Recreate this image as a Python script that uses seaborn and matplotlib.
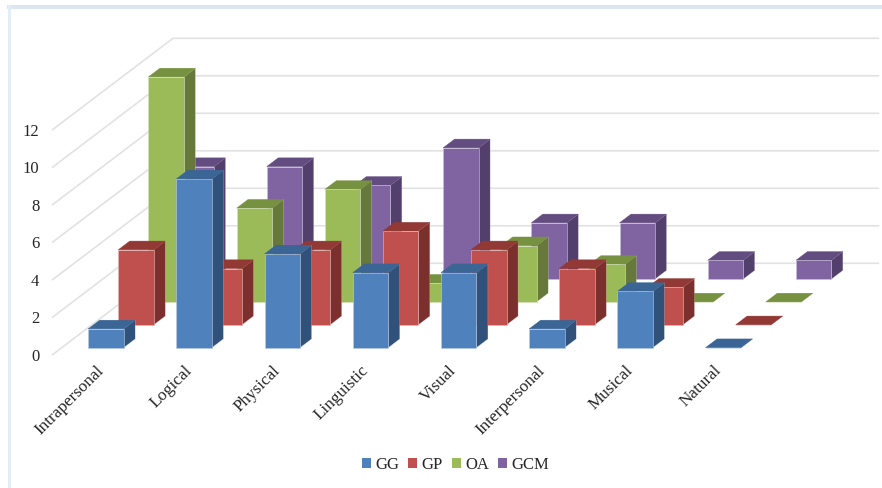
import matplotlib
matplotlib.use("Agg")
import matplotlib.pyplot as plt
from matplotlib.patches import Patch, Polygon, Rectangle
from matplotlib.transforms import ScaledTranslation
import pandas as pd
import seaborn as sns

categories = ["Intrapersonal", "Logical", "Physical", "Linguistic",
              "Visual", "Interpersonal", "Musical", "Natural"]
gg = [1, 9, 5, 4, 4, 1, 3, 0]
gp = [4, 3, 4, 5, 4, 3, 2, 0]
oa = [12, 5, 6, 1, 3, 2, 0, 0]
gcm = [6, 6, 5, 7, 3, 3, 1, 1]
series_names = ["GG", "GP", "OA", "GCM"]
series_values = [gg, gp, oa, gcm]

front_colors = ["#4F81BD", "#C0504D", "#9BBB59", "#8064A2"]
top_colors = ["#3A6595", "#923936", "#76913F", "#634C7F"]
side_colors = ["#30527A", "#7C302D", "#66793A", "#533F6B"]
edge_colors = ["#B9CDE5", "#E6B9B8", "#D7E4BD", "#CCC1DA"]

W, H = 882, 488
sns.set_theme(style="white")
plt.rcParams["font.family"] = ["Liberation Serif", "DejaVu Serif"]

fig = plt.figure(figsize=(W / 100, H / 100), dpi=100, facecolor="white")
# The axes rectangle is the front plane of the oblique box.
ax = fig.add_axes([52.5 / W, (H - 354.7) / H, 705.6 / W, 225.0 / H])
ax.patch.set_visible(False)

# Oblique projection: full box depth expressed in category and value units.
DEPTH_X, DEPTH_Y = 1.366, 4.875
BAR_W = 0.4025
BAR_DEPTH = 0.38
SLOT_GAP = (1 - BAR_DEPTH) / 2


def project(x, value, depth):
    return x + depth * DEPTH_X, value + depth * DEPTH_Y


# Gridlines on the side wall and the back wall.
for v in range(0, 13, 2):
    bx, by = project(-0.5, v, 1.0)
    ax.plot([-0.5, bx, bx + 8], [v, by, by], color="#E2E2E2", lw=1.2,
            clip_on=False, zorder=1, solid_joinstyle="miter")

# Series are painted from the back of the box to the front.
for s in reversed(range(4)):
    depth0 = (s + SLOT_GAP) / 4
    depth1 = (s + SLOT_GAP + BAR_DEPTH) / 4
    shift_x, base = project(0, 0, depth0)
    frame = pd.DataFrame({
        "x": [i + shift_x for i in range(len(categories))],
        "y": series_values[s],
    })
    z = 10 + (3 - s) * 2
    for i, value in enumerate(series_values[s]):
        left = i - BAR_W / 2
        right = left + BAR_W
        top_face = [project(left, value, depth0), project(right, value, depth0),
                    project(right, value, depth1), project(left, value, depth1)]
        side_face = [project(right, 0, depth0), project(right, value, depth0),
                     project(right, value, depth1), project(right, 0, depth1)]
        ax.add_patch(Polygon(side_face, closed=True, fc=side_colors[s],
                             ec=edge_colors[s], lw=0.2, clip_on=False, zorder=z))
        ax.add_patch(Polygon(top_face, closed=True, fc=top_colors[s],
                             ec=top_colors[s], lw=0.3, clip_on=False, zorder=z))
    sns.barplot(data=frame, x="x", y="y", native_scale=True, width=BAR_W,
                bottom=base, color=front_colors[s], saturation=1,
                edgecolor=edge_colors[s], linewidth=0.4, errorbar=None,
                clip_on=False, zorder=z + 1, ax=ax)

ax.set_xlim(-0.5, 7.5)
ax.set_ylim(0, 12)
ax.set_xlabel("")
ax.set_ylabel("")
sns.despine(ax=ax, left=True, bottom=True)
ax.grid(False)

ax.set_yticks(range(0, 13, 2))
ax.tick_params(axis="y", length=0, pad=9.5, labelsize=12, labelcolor="#262626")
ax.set_xticks(range(len(categories)))
ax.set_xticklabels(categories, rotation=45, ha="right", va="top",
                   rotation_mode="anchor", fontsize=12.3, color="#262626")
ax.tick_params(axis="x", length=0, pad=5.5)
label_shift = ScaledTranslation(-1 / 100, 0, fig.dpi_scale_trans)
for label in ax.get_xticklabels():
    label.set_transform(label.get_transform() + label_shift)

handles = [Patch(facecolor=c, edgecolor="none", label=n)
           for c, n in zip(front_colors, series_names)]
fig.legend(handles=handles, ncol=4, loc="center", frameon=False,
           bbox_to_anchor=(455.5 / W, (H - 465) / H), fontsize=12,
           handlelength=0.55, handleheight=0.55, handletextpad=0.25,
           columnspacing=0.55, labelcolor="#262626")

# Pale frame along the top and left edges.
fig.add_artist(Rectangle((7 / W, (H - 8.5) / H), (W - 7) / W, 3.5 / H,
                         transform=fig.transFigure, fc="#DCE6F1", ec="none"))
fig.add_artist(Rectangle((7.5 / W, 0), 3 / W, (H - 5) / H,
                         transform=fig.transFigure, fc="#E4ECF5", ec="none"))

fig.savefig("out.png", dpi=100, facecolor="white")
